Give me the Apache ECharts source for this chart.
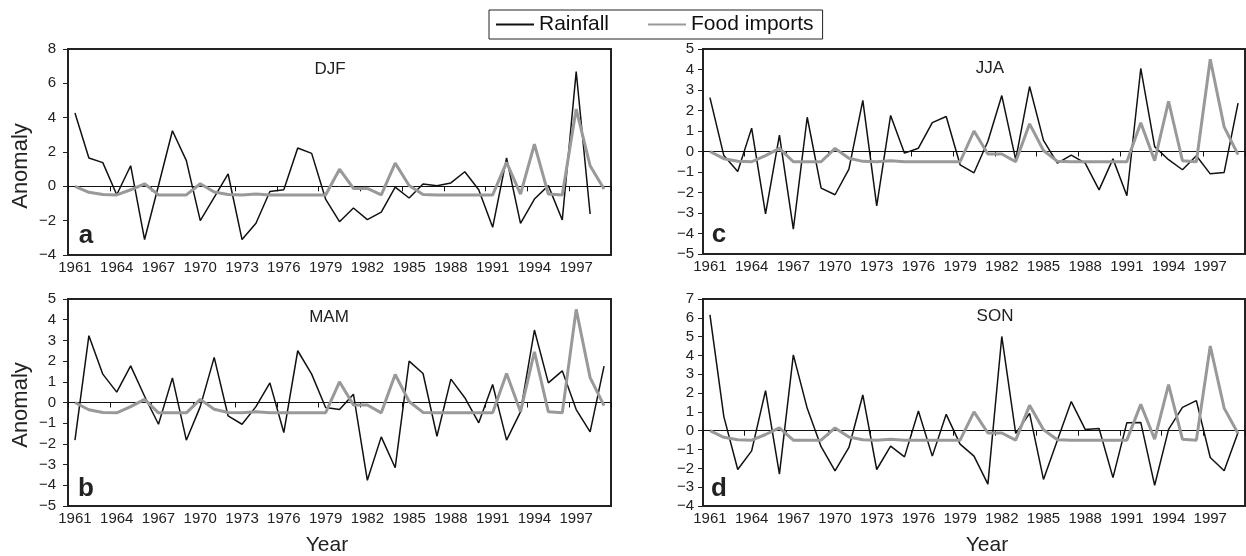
<!DOCTYPE html>
<html>
<head>
<meta charset="utf-8">
<script src="https://cdn.jsdelivr.net/npm/echarts@6/dist/echarts.min.js"></script>
<style>
html,body{margin:0;padding:0;background:#fff;}
#chart{width:1246px;height:556px;}
</style>
</head>
<body>
<div id="chart"></div>
<script>
const years = ['1961','1962','1963','1964','1965','1966','1967','1968','1969','1970',
  '1971','1972','1973','1974','1975','1976','1977','1978','1979','1980',
  '1981','1982','1983','1984','1985','1986','1987','1988','1989','1990',
  '1991','1992','1993','1994','1995','1996','1997','1998','1999'];

const foodImports = [0,-0.35,-0.48,-0.5,-0.2,0.15,-0.5,-0.5,-0.5,0.15,
  -0.33,-0.48,-0.5,-0.45,-0.5,-0.5,-0.5,-0.5,-0.5,1.0,
  -0.12,-0.12,-0.5,1.35,0.05,-0.48,-0.5,-0.5,-0.5,-0.5,
  -0.5,1.4,-0.45,2.45,-0.45,-0.5,4.5,1.2,-0.15];

const rainDJF = [4.27,1.65,1.38,-0.49,1.2,-3.1,0.05,3.24,1.5,-2.0,
  -0.64,0.72,-3.1,-2.15,-0.3,-0.2,2.23,1.92,-0.74,-2.06,
  -1.26,-1.94,-1.5,-0.05,-0.68,0.14,0.04,0.2,0.85,-0.2,
  -2.39,1.65,-2.16,-0.74,0.04,-1.96,6.68,-1.61,null];

const rainMAM = [-1.82,3.23,1.37,0.5,1.77,0.3,-1.05,1.19,-1.82,-0.2,
  2.18,-0.65,-1.05,-0.2,0.95,-1.45,2.5,1.37,-0.24,-0.34,
  0.4,-3.76,-1.66,-3.15,2.0,1.4,-1.63,1.13,0.23,-0.98,
  0.87,-1.82,-0.45,3.5,0.95,1.53,-0.34,-1.42,1.76];

const rainJJA = [2.63,-0.2,-0.98,1.14,-3.04,0.8,-3.79,1.67,-1.79,-2.11,
  -0.86,2.49,-2.65,1.76,-0.08,0.16,1.41,1.71,-0.65,-1.04,
  0.5,2.73,-0.4,3.17,0.54,-0.57,-0.18,-0.57,-1.87,-0.36,
  -2.16,4.05,0.24,-0.4,-0.89,-0.21,-1.09,-1.02,2.36];

const rainSON = [6.16,0.75,-2.06,-1.07,2.13,-2.31,4.03,1.19,-0.85,-2.13,
  -0.89,1.9,-2.06,-0.82,-1.39,1.05,-1.35,0.87,-0.71,-1.35,
  -2.84,5.01,-0.14,0.92,-2.59,-0.5,1.55,0.07,0.12,-2.49,
  0.43,0.44,-2.9,0.07,1.24,1.6,-1.42,-2.13,-0.1];

const seasons = ['DJF','MAM','JJA','SON'];
const panelLetters = ['a','b','c','d'];
const yMins = [-4,-5,-5,-4];
const yMaxs = [8,5,5,7];
const yIntervals = [2,1,1,1];
const rainSets = [rainDJF, rainMAM, rainJJA, rainSON];

const FONT = "'Liberation Sans', Arial, Helvetica, sans-serif";
const grids = [
  {left:68, top:49, width:543, height:206},
  {left:68, top:299, width:543, height:207},
  {left:703, top:49, width:542, height:205},
  {left:703, top:299, width:542, height:207}
];
const labelMargins = [12,12,9,9];

const option = {
  animation:false,
  backgroundColor:'#fff',
  legend:{
    data:['Rainfall','Food imports'],
    left:489, top:10,
    orient:'horizontal',
    borderColor:'#222', borderWidth:1,
    padding:[4,9,4,6],
    itemGap:38, itemWidth:38, itemHeight:14,
    itemStyle:{opacity:0},
    textStyle:{fontFamily:FONT, fontSize:21, color:'#111'}
  },
  grid: grids.map(g => Object.assign({show:true, borderColor:'#222', borderWidth:2, backgroundColor:'transparent', containLabel:false}, g)),
  xAxis: [],
  yAxis: [],
  series: [],
  graphic: []
};

for (let p = 0; p < 4; p++) {
  option.xAxis.push({
    gridIndex:p, type:'category', data:years, boundaryGap:true,
    axisLine:{show:true, onZero:true, lineStyle:{color:'#111', width:1}},
    axisTick:{show:true, length:5, lineStyle:{color:'#111', width:1}},
    axisLabel:{show:false}, splitLine:{show:false}
  });
  option.xAxis.push({
    gridIndex:p, type:'category', data:years, boundaryGap:true, position:'bottom',
    axisLine:{show:false, onZero:false}, axisTick:{show:false},
    axisLabel:{show:true, interval:2, margin:5, fontFamily:FONT, fontSize:15, color:'#222'},
    splitLine:{show:false}
  });
  option.yAxis.push({
    gridIndex:p, type:'value', min:yMins[p], max:yMaxs[p], interval:yIntervals[p],
    axisLine:{show:true, lineStyle:{color:'#222', width:2}},
    axisTick:{show:true, length:5, lineStyle:{color:'#222', width:1}},
    axisLabel:{margin:labelMargins[p], fontFamily:FONT, fontSize:15, color:'#222',
      formatter: v => String(v).replace('-', '\u2212')},
    splitLine:{show:false}
  });
  option.series.push({
    name:'Rainfall', type:'line', xAxisIndex:2*p, yAxisIndex:p,
    data:rainSets[p], symbol:'none', connectNulls:false,
    lineStyle:{color:'#111', width:1.5}, itemStyle:{color:'#111'}, z:3
  });
  option.series.push({
    name:'Food imports', type:'line', xAxisIndex:2*p, yAxisIndex:p,
    data:foodImports, symbol:'none',
    lineStyle:{color:'#999', width:3}, itemStyle:{color:'#999'}, z:4
  });
}

const titlePos = [[330,69],[329,317],[990,68],[995,316]];
const letterPos = [[86,236],[86,489],[719,235],[719,489]];
for (let p = 0; p < 4; p++) {
  option.graphic.push({type:'text', x:titlePos[p][0], y:titlePos[p][1], z:10,
    style:{text:seasons[p], fontFamily:FONT, fontSize:17, fill:'#222', textAlign:'center', textVerticalAlign:'middle'}});
  option.graphic.push({type:'text', x:letterPos[p][0], y:letterPos[p][1], z:10,
    style:{text:panelLetters[p], fontFamily:FONT, fontSize:26, fontWeight:'bold', fill:'#222', textAlign:'center', textVerticalAlign:'middle'}});
}
option.graphic.push({type:'text', x:21, y:166, rotation:Math.PI/2, z:10,
  style:{text:'Anomaly', fontFamily:FONT, fontSize:22, fill:'#222', textAlign:'center', textVerticalAlign:'middle'}});
option.graphic.push({type:'text', x:21, y:405, rotation:Math.PI/2, z:10,
  style:{text:'Anomaly', fontFamily:FONT, fontSize:22, fill:'#222', textAlign:'center', textVerticalAlign:'middle'}});
option.graphic.push({type:'text', x:327, y:545, z:10,
  style:{text:'Year', fontFamily:FONT, fontSize:21, fill:'#222', textAlign:'center', textVerticalAlign:'middle'}});
option.graphic.push({type:'text', x:987, y:545, z:10,
  style:{text:'Year', fontFamily:FONT, fontSize:21, fill:'#222', textAlign:'center', textVerticalAlign:'middle'}});

const chart = echarts.init(document.getElementById('chart'), null, {renderer:'canvas'});
chart.setOption(option);
</script>
</body>
</html>
